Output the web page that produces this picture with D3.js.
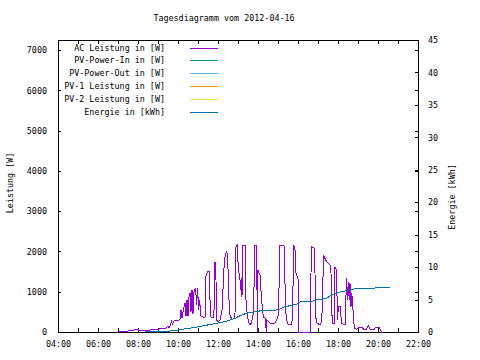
<!DOCTYPE html>
<html><head><meta charset="utf-8">
<script src="https://cdn.jsdelivr.net/npm/d3@7/dist/d3.min.js"></script>
<style>
body{margin:0;background:#fff;}
svg text{font-family:"DejaVu Sans Mono","Liberation Mono",monospace;font-size:8.4px;fill:#000;}
</style></head><body>
<svg id="c" width="480" height="360"></svg>
<script>
const titleText = "Tagesdiagramm vom 2012-04-16";
const yLabel = "Leistung [W]";
const y2Label = "Energie [kWh]";
const xTickHours = [4,6,8,10,12,14,16,18,20,22];
const xTickLabels = ["04:00","06:00","08:00","10:00","12:00","14:00","16:00","18:00","20:00","22:00"];
const xMinorHours = [5,7,9,11,13,15,17,19,21];
const yTicks = [0,1000,2000,3000,4000,5000,6000,7000];
const y2Ticks = [0,5,10,15,20,25,30,35,40,45];
const legendNames = ["AC Leistung in [W]","PV-Power-In in [W]","PV-Power-Out in [W]","PV-1 Leistung in [W]","PV-2 Leistung in [W]","Energie in [kWh]"];
const legendColors = ["#9400d3","#009e73","#56b4e9","#e69f00","#f0e442","#0072b2"];

// AC Leistung: time (hours) and watts
const acTime = [7.0,7.35,7.5,7.75,7.9,7.98,8.05,8.6,8.65,9.05,9.1,9.4,9.5,9.55,9.6,9.68,9.72,9.8,10.0,10.1,10.15,10.2,10.28,10.35,10.4,10.45,10.5,10.55,10.6,10.65,10.7,10.75,10.8,10.88,10.93,10.98,11.03,11.08,11.15,11.25,11.35,11.38,11.48,11.55,11.6,11.65,11.75,11.82,11.85,11.9,11.93,12.02,12.1,12.2,12.32,12.43,12.48,12.55,12.6,12.7,12.8,12.85,12.9,12.97,13.02,13.05,13.1,13.13,13.18,13.2,13.23,13.35,13.4,13.47,13.57,13.63,13.7,13.77,13.85,13.93,13.97,13.99,14.1,14.18,14.27,14.35,14.42,14.44,14.6,14.85,14.93,15.02,15.1,15.27,15.32,15.37,15.43,15.52,15.68,15.73,15.78,15.85,15.9,16.02,16.05,16.63,16.66,16.8,16.85,16.88,16.95,17.1,17.18,17.23,17.27,17.32,17.38,17.45,17.52,17.6,17.65,17.68,17.73,17.83,17.85,17.93,17.97,18.02,18.1,18.18,18.35,18.43,18.48,18.52,18.56,18.6,18.65,18.68,18.72,18.77,18.82,18.95,19.02,19.18,19.27,19.43,19.52,19.6,19.8,19.85,20.07,20.13,20.18,20.27];
const acPower = [12,12,25,42,62,67,42,42,67,67,92,92,149,112,149,256,199,273,281,323,546,348,571,720,397,795,397,869,968,497,1043,447,993,1093,670,1093,546,795,397,372,348,1373,1497,1515,795,372,348,628,1738,1291,298,248,298,546,1788,2011,1887,795,422,298,348,472,2110,2160,1465,1465,1291,1043,1341,869,2160,2160,795,380,174,174,298,472,2160,2160,0,1540,1415,795,348,348,0,298,223,216,298,422,2160,2160,2110,628,298,174,174,422,2160,2036,1465,1291,0,0,2118,2098,1465,380,223,174,256,795,1912,1862,1788,1738,1706,1664,1457,546,216,216,1621,1539,298,628,646,216,174,1333,795,1249,795,1209,628,961,844,380,92,67,117,117,74,74,149,67,50,107,107,50,0,0];

// Energie: time (hours) and kWh
const enTime = [8.35,9.35,10.0,11.0,11.68,12.35,12.85,13.1,13.35,13.6,13.85,14.1,14.6,14.93,15.1,15.35,15.6,15.93,16.1,16.68,16.85,17.18,17.43,17.68,17.93,18.18,18.6,19.0,19.85,19.93,20.6];
const enKwh = [0,0.05,0.3,0.8,1.2,1.6,2.1,2.5,2.8,3.0,3.1,3.25,3.3,3.4,3.55,3.9,4.05,4.3,4.65,4.65,4.95,5.05,5.2,5.7,6.05,6.2,6.5,6.75,6.75,6.9,6.9];

const L=58,R=418,T=40,B=332;
const svg=d3.select("#c");
const x=d3.scaleLinear().domain([4,22]).range([L,R]);
const y=d3.scaleLinear().domain([0,7250]).range([B,T]);
const y2=d3.scaleLinear().domain([0,45]).range([B,T]);

// title
svg.append("text").attr("x",224).attr("y",21).attr("text-anchor","middle").text(titleText);

// axes ticks
const g=svg.append("g").attr("shape-rendering","crispEdges");
function styleAxis(sel){sel.select(".domain").remove();sel.selectAll("line").attr("stroke","#000");sel.selectAll("text").style("font-family",null).style("font-size",null).attr("fill","#000");}
g.append("g").attr("transform",`translate(0,${B})`).call(d3.axisBottom(x).tickValues(xTickHours).tickSize(-4).tickPadding(9).tickFormat((d,i)=>xTickLabels[i])).call(styleAxis);
g.append("g").attr("transform",`translate(0,${B})`).call(d3.axisBottom(x).tickValues(xMinorHours).tickSize(-4).tickFormat("")).call(styleAxis);
g.append("g").attr("transform",`translate(0,${T})`).call(d3.axisTop(x).tickValues(xTickHours.concat(xMinorHours)).tickSize(-4).tickFormat("")).call(styleAxis);
g.append("g").attr("transform",`translate(${L},0)`).call(d3.axisLeft(y).tickValues(yTicks).tickSize(-3).tickPadding(11).tickFormat(d3.format("d"))).call(styleAxis);
g.append("g").attr("transform",`translate(${R},0)`).call(d3.axisLeft(y).tickValues(yTicks).tickSize(3).tickFormat("")).call(styleAxis);
g.append("g").attr("transform",`translate(${R},0)`).call(d3.axisRight(y2).tickValues(y2Ticks).tickSize(-3).tickPadding(10).tickFormat(d3.format("d"))).call(styleAxis);

// axis labels
svg.append("text").attr("transform","translate(13,183) rotate(-90)").attr("text-anchor","middle").text(yLabel);
svg.append("text").attr("transform","translate(455,197) rotate(-90)").attr("text-anchor","middle").text(y2Label);

// data lines
const acData=acTime.map((t,i)=>[t,acPower[i]]);
const enData=enTime.map((t,i)=>[t,enKwh[i]]);
svg.append("path").datum(acData).attr("fill","none").attr("stroke",legendColors[0]).attr("stroke-width",1).attr("shape-rendering","crispEdges")
  .attr("d",d3.line().x(d=>x(d[0])).y(d=>y(d[1])));
svg.append("path").datum(enData).attr("fill","none").attr("stroke",legendColors[5]).attr("stroke-width",1).attr("shape-rendering","crispEdges")
  .attr("d",d3.line().x(d=>x(d[0])).y(d=>y2(d[1])));

// border
g.append("rect").attr("x",L+0.5).attr("y",T+0.5).attr("width",R-L).attr("height",B-T).attr("fill","none").attr("stroke","#000");

// legend
const leg=svg.append("g").attr("shape-rendering","crispEdges");
legendNames.forEach((n,i)=>{
  const yy=47.5+i*12.85;
  leg.append("text").attr("x",165).attr("y",yy+3).attr("text-anchor","end").text(n);
  leg.append("line").attr("x1",190).attr("x2",218).attr("y1",Math.round(yy)+0.5).attr("y2",Math.round(yy)+0.5).attr("stroke",legendColors[i]).attr("stroke-width",1);
});
</script></body></html>
